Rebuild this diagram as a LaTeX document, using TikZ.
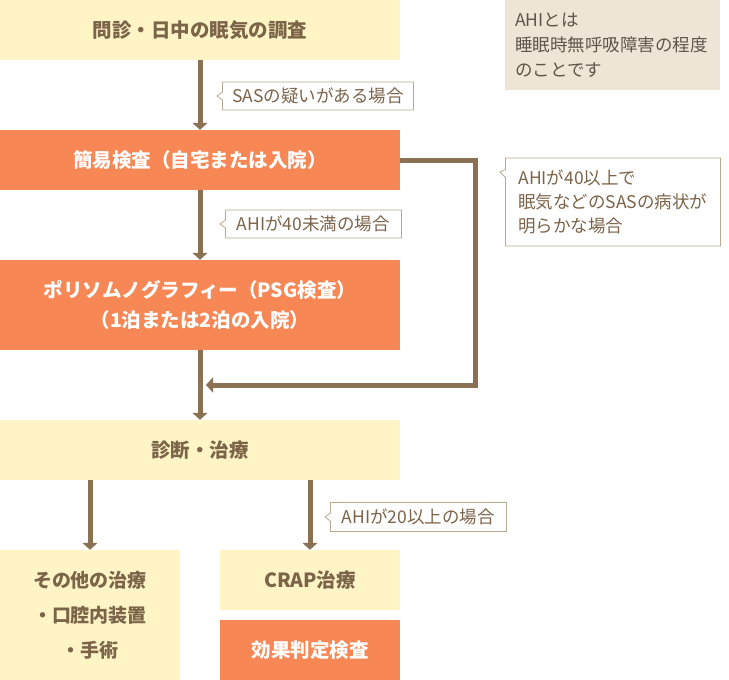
\documentclass[tikz,border=0pt]{standalone}
\usepackage{fontspec}
\setmainfont{Noto Sans CJK JP}
\usetikzlibrary{arrows.meta}
\usetikzlibrary{shapes.callouts}

\definecolor{paleyellow}{HTML}{FFF4C6}
\definecolor{examorange}{HTML}{F78856}
\definecolor{flowbrown}{HTML}{8A7153}
\definecolor{textbrown}{HTML}{7C6449}
\definecolor{notegray}{HTML}{5F554B}
\definecolor{notebeige}{HTML}{EEE5D7}
\definecolor{condline}{HTML}{B9A990}

\tikzset{
  stage/.style={fill=paleyellow, text=textbrown, minimum width=400pt, minimum height=60pt,
    inner sep=0pt, align=center, font=\bfseries\fontsize{19.5}{30}\selectfont},
  exam/.style={stage, fill=examorange, text=white},
  flow/.style={draw=flowbrown, line width=5pt, -{Triangle[width=15pt,length=7pt]}},
  cond/.style={rectangle callout, draw=condline, fill=white, text=textbrown, line width=0.8pt,
    inner sep=0pt, anchor=west, callout pointer width=8pt,
    font=\fontsize{17.5}{24}\selectfont}
}

\begin{document}
\begin{tikzpicture}[x=1pt, y=-1pt]
  \useasboundingbox (0, 0) rectangle (729, 680);

  \node[stage] (interview) at (200, 30) {問診・日中の眠気の調査};
  \node[exam] (simple) at (200, 160) {簡易検査（自宅または入院）};
  \node[exam, minimum height=90pt] (psg) at (200, 305)
    {ポリソムノグラフィー（PSG検査）\\（1泊または2泊の入院）};
  \node[stage] (diagnosis) at (200, 450) {診断・治療};

  \node[stage, minimum width=180pt, minimum height=130pt,
    font=\bfseries\fontsize{19}{35}\selectfont] (other) at (90, 615)
    {その他の治療\\・口腔内装置\\・手術};
  \node[stage, minimum width=180pt] (cpap) at (310, 580) {CRAP治療};
  \node[exam, minimum width=180pt] (effect) at (310, 650) {効果判定検査};

  \node[fill=notebeige, text=notegray, anchor=north west, inner xsep=10pt, inner ysep=0pt,
    text width=195pt, minimum height=90pt, align=left,
    font=\fontsize{17.5}{25}\selectfont] (note) at (505, 0)
    {AHIとは\\睡眠時無呼吸障害の程度\\のことです};

  \draw[flow] (interview) -- (simple);
  \draw[flow] (simple) -- (psg);
  \draw[flow] (psg) -- (diagnosis);
  \draw[flow] (diagnosis.south -| other.north) -- (other);
  \draw[flow] (diagnosis.south -| cpap.north) -- (cpap);

  % bypass from the simple test straight to diagnosis
  \coordinate (merge) at (206, 385);
  \draw[flow] (simple.east) -- ++(75, 0) |- (merge);

  \node[cond, minimum width=191pt, minimum height=28pt,
    callout absolute pointer={(217, 96)}] (suspect) at (222, 96) {SASの疑いがある場合};
  \node[cond, minimum width=176pt, minimum height=28pt,
    callout absolute pointer={(220, 224)}] (under40) at (225, 224) {AHIが40未満の場合};
  \node[cond, minimum width=215pt, minimum height=88pt, align=left,
    callout absolute pointer={(500, 172)}] (over40) at (505, 202)
    {AHIが40以上で\\眠気などのSASの病状が\\明らかな場合};
  \node[cond, minimum width=176pt, minimum height=29pt,
    callout absolute pointer={(325, 517)}] (over20) at (330, 517) {AHIが20以上の場合};
\end{tikzpicture}
\end{document}
